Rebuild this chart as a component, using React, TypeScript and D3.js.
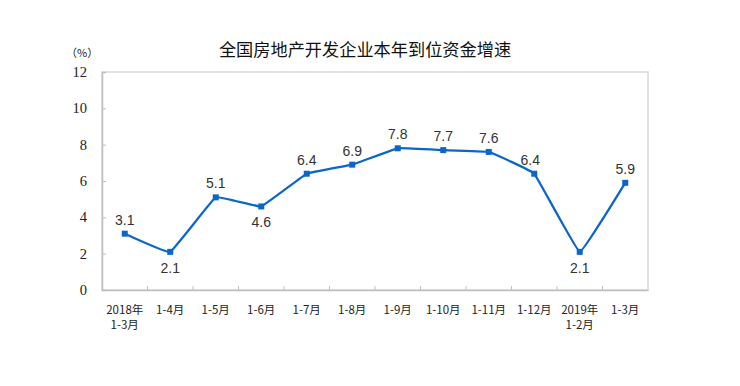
import React, { useRef, useEffect } from "react";
import * as d3 from "d3";

// Data
const categories = [
  "2018年\n1-3月",
  "1-4月",
  "1-5月",
  "1-6月",
  "1-7月",
  "1-8月",
  "1-9月",
  "1-10月",
  "1-11月",
  "1-12月",
  "2019年\n1-2月",
  "1-3月",
];
const growth = [3.1, 2.1, 5.1, 4.6, 6.4, 6.9, 7.8, 7.7, 7.6, 6.4, 2.1, 5.9];
const labelBelow = [false, true, false, true, false, false, false, false, false, false, true, false];
const yTicks = [0, 2, 4, 6, 8, 10, 12];

const Chart: React.FC<{ width: number; height: number }> = ({ width, height }) => {
  const svgRef = useRef<SVGSVGElement | null>(null);

  useEffect(() => {
    if (!svgRef.current) return;
    const svg = d3.select(svgRef.current);
    svg.selectAll("*").remove();

    const margin = { top: 72, right: 92, bottom: 96, left: 102 };
    const chartWidth = width - margin.left - margin.right;
    const chartHeight = height - margin.top - margin.bottom;

    const g = svg
      .append("g")
      .attr("transform", `translate(${margin.left},${margin.top})`);

    // Scales
    const xScale = d3
      .scaleBand()
      .domain(categories)
      .range([0, chartWidth])
      .padding(0);
    const yScale = d3.scaleLinear().domain([0, 12]).range([chartHeight, 0]);
    const cx = (i: number) => xScale(categories[i])! + xScale.bandwidth() / 2;

    // Title
    svg
      .append("text")
      .attr("x", 365)
      .attr("y", 56)
      .attr("text-anchor", "middle")
      .attr("font-family", "'Noto Sans CJK SC', sans-serif")
      .attr("font-size", 17.2)
      .attr("fill", "#111")
      .text("全国房地产开发企业本年到位资金增速");

    svg
      .append("text")
      .attr("x", 66)
      .attr("y", 57)
      .attr("font-family", "'Noto Sans CJK SC', sans-serif")
      .attr("font-size", 11)
      .attr("fill", "#222")
      .text("（%）");

    // Frame
    g.append("rect")
      .attr("x", 0)
      .attr("y", 0)
      .attr("width", chartWidth)
      .attr("height", chartHeight)
      .attr("fill", "none")
      .attr("stroke", "#d9d9d9")
      .attr("stroke-width", 1.5);

    // Y axis
    const yAxis = g
      .append("g")
      .call(
        d3
          .axisLeft(yScale)
          .tickValues(yTicks)
          .tickSize(-4)
          .tickPadding(15)
      );
    yAxis.select(".domain").attr("stroke", "#bfbfbf").attr("stroke-width", 1.5);
    yAxis.selectAll(".tick line").attr("stroke", "#bfbfbf");
    yAxis
      .selectAll("text")
      .attr("font-family", "'Liberation Serif', serif")
      .attr("font-size", 14.5)
      .attr("fill", "#222");

    // X axis
    const xAxis = g
      .append("g")
      .attr("transform", `translate(0,${chartHeight})`)
      .call(d3.axisBottom(xScale).tickSize(0).tickFormat(() => ""));
    xAxis.select(".domain").attr("stroke", "#bfbfbf").attr("stroke-width", 1.5);
    // boundary ticks pointing up
    g.append("g")
      .selectAll("line")
      .data(categories.slice(1))
      .enter()
      .append("line")
      .attr("x1", (d) => xScale(d)!)
      .attr("x2", (d) => xScale(d)!)
      .attr("y1", chartHeight)
      .attr("y2", chartHeight - 4)
      .attr("stroke", "#bfbfbf");

    const xLabels = g
      .append("g")
      .selectAll("text")
      .data(categories)
      .enter()
      .append("text")
      .attr("x", (d) => xScale(d)! + xScale.bandwidth() / 2)
      .attr("y", chartHeight + 24)
      .attr("text-anchor", "middle")
      .attr("font-family", "'Noto Sans CJK SC', sans-serif")
      .attr("font-size", 11.5)
      .attr("fill", "#222");
    xLabels.each(function (d) {
      const lines = d.split("\n");
      const t = d3.select(this);
      lines.forEach((ln, i) => {
        t.append("tspan")
          .attr("x", xScale(d)! + xScale.bandwidth() / 2)
          .attr("dy", i === 0 ? 0 : 15)
          .text(ln);
      });
    });

    // Line
    const line = d3
      .line<number>()
      .x((_d, i) => cx(i))
      .y((d) => yScale(d))
      .curve(d3.curveCardinal.tension(0.8));
    g.append("path")
      .datum(growth)
      .attr("d", line)
      .attr("fill", "none")
      .attr("stroke", "#0b66c9")
      .attr("stroke-width", 2.25);

    // Markers
    g.append("g")
      .selectAll("rect")
      .data(growth)
      .enter()
      .append("rect")
      .attr("x", (_d, i) => cx(i) - 3)
      .attr("y", (d) => yScale(d) - 3)
      .attr("width", 6)
      .attr("height", 6)
      .attr("fill", "#0b66c9");

    // Data labels
    g.append("g")
      .selectAll("text")
      .data(growth)
      .enter()
      .append("text")
      .attr("x", (_d, i) => cx(i) - (i === 9 ? 4 : 0))
      .attr("y", (d, i) => yScale(d) + (labelBelow[i] ? 21 : -9))
      .attr("text-anchor", "middle")
      .attr("font-family", "'Liberation Sans', Arial, sans-serif")
      .attr("font-size", 14)
      .attr("fill", "#333")
      .text((d) => d.toFixed(1));
  }, [width, height]);

  return (
    <svg
      ref={svgRef}
      width={width}
      height={height}
      style={{ position: "absolute", left: 0, top: 0, background: "#fff" }}
    />
  );
};

export default function App() {
  return <Chart width={740} height={386} />;
}
